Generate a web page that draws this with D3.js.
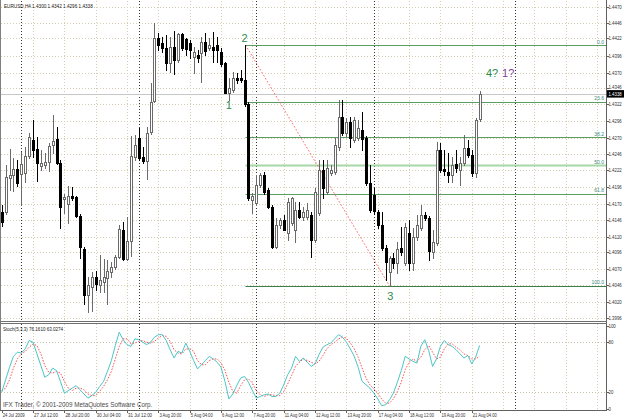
<!DOCTYPE html>
<html>
<head>
<meta charset="utf-8">
<script src="https://cdn.jsdelivr.net/npm/d3@7"></script>
<style>
body { margin: 0; background: #fff; }
svg { display: block; }
text { font-family: "Liberation Sans", Arial, sans-serif; }
</style>
</head>
<body>
<div id="chart"></div>
<script>
var width = 625;
var height = 420;

// EURUSD H4, 24 Jul 2009 - 21 Aug 2009
var opens = [1.4158,1.4158,1.4209,1.4214,1.4223,1.4216,1.4217,1.4243,1.4267,1.4254,
  1.4228,1.4229,1.4234,1.4260,1.4269,1.4232,1.4177,1.4170,1.4182,1.4180,
  1.4151,1.4101,1.4031,1.4043,1.4058,1.4046,1.4051,1.4058,1.4066,1.4074,
  1.4089,1.4130,1.4086,1.4113,1.4241,1.4270,1.4241,1.4235,1.4280,1.4327,
  1.4423,1.4415,1.4408,1.4385,1.4409,1.4389,1.4429,1.4421,1.4415,1.4394,
  1.4397,1.4400,1.4417,1.4408,1.4409,1.4412,1.4401,1.4385,1.4340,1.4344,
  1.4362,1.4362,1.4359,1.4322,1.4176,1.4171,1.4199,1.4214,1.4191,1.4165,
  1.4104,1.4138,1.4145,1.4126,1.4141,1.4130,1.4161,1.4150,1.4150,1.4153,
  1.4115,1.4156,1.4222,1.4188,1.4217,1.4219,1.4257,1.4302,1.4278,1.4295,
  1.4267,1.4270,1.4283,1.4270,1.4202,1.4183,1.4158,1.4138,1.4103,1.4066,
  1.4087,1.4080,1.4103,1.4080,1.4126,1.4080,1.4120,1.4133,1.4153,1.4148,
  1.4097,1.4110,1.4252,1.4223,1.4219,1.4214,1.4231,1.4222,1.4232,1.4255,
  1.4244,1.4217,1.4300];
var highs = [1.4168,1.4229,1.4254,1.4240,1.4237,1.4249,1.4257,1.4278,1.4298,1.4272,
  1.4252,1.4248,1.4263,1.4305,1.4287,1.4237,1.4185,1.4197,1.4196,1.4182,
  1.4155,1.4104,1.4058,1.4066,1.4068,1.4092,1.4086,1.4084,1.4081,1.4092,
  1.4138,1.4142,1.4150,1.4273,1.4275,1.4286,1.4257,1.4287,1.4354,1.4446,
  1.4430,1.4424,1.4427,1.4424,1.4433,1.4431,1.4430,1.4423,1.4420,1.4409,
  1.4404,1.4424,1.4430,1.4423,1.4432,1.4424,1.4408,1.4386,1.4362,1.4371,
  1.4369,1.4374,1.4412,1.4325,1.4187,1.4214,1.4217,1.4219,1.4194,1.4168,
  1.4148,1.4148,1.4153,1.4179,1.4180,1.4173,1.4173,1.4165,1.4171,1.4158,
  1.4194,1.4237,1.4237,1.4237,1.4229,1.4270,1.4328,1.4328,1.4301,1.4302,
  1.4302,1.4298,1.4310,1.4273,1.4229,1.4194,1.4161,1.4158,1.4107,1.4090,
  1.4095,1.4112,1.4135,1.4141,1.4145,1.4133,1.4153,1.4168,1.4158,1.4151,
  1.4130,1.4264,1.4263,1.4252,1.4248,1.4241,1.4252,1.4241,1.4275,1.4267,
  1.4252,1.4301,1.4342];
var lows = [1.4136,1.4155,1.4191,1.4190,1.4197,1.4168,1.4203,1.4240,1.4241,1.4205,
  1.4222,1.4225,1.4220,1.4248,1.4231,1.4133,1.4156,1.4141,1.4176,1.4150,
  1.4087,1.4017,1.4005,1.4007,1.4039,1.4036,1.4036,1.4017,1.4058,1.4071,
  1.4087,1.4084,1.4084,1.4090,1.4237,1.4237,1.4232,1.4208,1.4276,1.4325,
  1.4404,1.4401,1.4374,1.4371,1.4368,1.4386,1.4404,1.4397,1.4392,1.4369,
  1.4386,1.4356,1.4397,1.4404,1.4386,1.4386,1.4380,1.4339,1.4328,1.4340,
  1.4354,1.4356,1.4319,1.4176,1.4156,1.4168,1.4196,1.4185,1.4164,1.4103,
  1.4103,1.4133,1.4130,1.4115,1.4138,1.4112,1.4148,1.4145,1.4147,1.4089,
  1.4112,1.4153,1.4179,1.4185,1.4214,1.4216,1.4252,1.4275,1.4273,1.4257,
  1.4264,1.4267,1.4252,1.4199,1.4158,1.4155,1.4133,1.4100,1.4054,1.4045,
  1.4072,1.4065,1.4092,1.4077,1.4069,1.4069,1.4115,1.4130,1.4145,1.4084,
  1.4087,1.4107,1.4219,1.4214,1.4203,1.4203,1.4219,1.4199,1.4229,1.4241,
  1.4212,1.4211,1.4296];
var closes = [1.4142,1.4211,1.4214,1.4223,1.4202,1.4231,1.4243,1.4272,1.4251,1.4232,
  1.4232,1.4234,1.4258,1.4266,1.4232,1.4165,1.4180,1.4182,1.4179,1.4151,
  1.4103,1.4031,1.4046,1.4058,1.4048,1.4054,1.4058,1.4068,1.4074,1.4089,
  1.4132,1.4086,1.4113,1.4243,1.4260,1.4240,1.4235,1.4278,1.4325,1.4423,
  1.4412,1.4408,1.4385,1.4409,1.4389,1.4429,1.4408,1.4406,1.4404,1.4401,
  1.4392,1.4417,1.4404,1.4412,1.4404,1.4404,1.4382,1.4340,1.4347,1.4362,
  1.4359,1.4359,1.4322,1.4179,1.4182,1.4199,1.4214,1.4188,1.4165,1.4104,
  1.4138,1.4145,1.4130,1.4173,1.4179,1.4161,1.4150,1.4158,1.4161,1.4115,
  1.4188,1.4222,1.4194,1.4225,1.4222,1.4260,1.4302,1.4278,1.4295,1.4270,
  1.4298,1.4286,1.4270,1.4202,1.4161,1.4158,1.4138,1.4103,1.4081,1.4087,
  1.4080,1.4101,1.4097,1.4135,1.4080,1.4120,1.4138,1.4153,1.4148,1.4097,
  1.4112,1.4252,1.4222,1.4220,1.4214,1.4229,1.4225,1.4232,1.4255,1.4244,
  1.4217,1.4298,1.4338];

// Stoch(5,3,3)
var stochK = [20,35,50,63,68,67,72,82,80,66,52,38,41,49,46,33,19,22,25,28,
  23,18,13,16,20,27,33,45,58,76,92,83,77,75,84,83,80,77,80,86,
  89,89,82,71,61,69,67,79,69,58,48,53,58,63,60,56,50,33,12,18,
  28,37,39,32,22,13,15,17,18,15,15,19,29,41,49,63,57,61,56,51,
  54,65,74,77,79,84,89,86,80,72,63,50,33,29,25,19,12,4,5,11,
  19,32,46,63,60,57,55,75,83,70,51,60,75,82,77,75,71,66,61,64,
  54,62,76.161];
var stochD = [22,25,35,49,60,66,69,74,78,76,66,52,44,43,45,43,33,25,22,25,
  25,23,18,16,16,21,27,35,45,60,75,84,84,78,79,81,82,80,79,81,
  85,88,87,81,71,67,66,72,72,69,58,53,53,58,60,60,55,46,32,21,
  19,28,35,36,31,22,17,15,17,17,16,16,21,30,40,51,56,60,58,56,
  54,57,64,72,77,80,84,86,85,79,72,62,49,37,29,24,19,12,7,7,
  12,21,32,47,56,60,57,62,71,76,68,60,62,72,78,78,74,71,66,64,
  60,60,63.0274];

var priceTicks = ["1.4470","1.4446","1.4422","1.4396","1.4370","1.4346","1.4322","1.4296","1.4270","1.4246",
  "1.4222","1.4196","1.4170","1.4146","1.4120","1.4096","1.4070","1.4046","1.4020","1.3996"];
var timeLabels = ["24 Jul 2009","27 Jul 12:00","28 Jul 20:00","30 Jul 04:00","31 Jul 12:00","3 Aug 20:00",
  "5 Aug 04:00","6 Aug 12:00","7 Aug 20:00","11 Aug 04:00","12 Aug 12:00","13 Aug 20:00",
  "17 Aug 04:00","18 Aug 12:00","19 Aug 20:00","21 Aug 04:00"];
var stochTicks = [100, 80, 20, 0];
var stochLevels = [80, 20];
var separators = [5, 35, 65, 95, 131];   // bar indexes of week separators

// fibo from wave point 2 (bar 62) to point 3 (bar 99)
var fiboFrom = {bar: 62, price: 1.4412};
var fiboTo = {bar: 99, price: 1.4045};
var fiboLevels = [0, 23.6, 38.2, 50, 61.8, 100];

var waveLabels = [
  {bar: 62, price: 1.4416, text: "2", color: "#2e8b4e"},
  {bar: 58, price: 1.4315, text: "1", color: "#2e8b4e"},
  {bar: 99.2, price: 1.4024, text: "3", color: "#2e8b4e"},
  {bar: 125.2, price: 1.4364, text: "4?", color: "#2e8b4e"},
  {bar: 129.3, price: 1.4364, text: "1?", color: "#7b3f9e"}
];

var plotRight = 606;
var mainTop = 1, mainBottom = 320;
var subTop = 324, subBottom = 410;

var svg = d3.select("#chart")
            .append("svg")
            .attr("width", width)
            .attr("height", height);

var x = d3.scaleLinear().domain([0, 122]).range([1.7, 479.6]);
var y = d3.scaleLinear().domain([1.3996, 1.4470]).range([318, 7]);
var ys = d3.scaleLinear().domain([0, 100]).range([409, 325.5]);

function px(v) { return Math.round(v) + 0.5; }

var gridColor = "#d5ceb2";
var lastPrice = closes[closes.length - 1];
var lastY = y(lastPrice);

// vertical grid, every 8 bars, into the future too
var gridBars = d3.range(8, 160, 8).filter(function(b) { return x(b) < plotRight - 2; });
[[mainTop, mainBottom], [subTop, subBottom]].forEach(function(r) {
  svg.append("g").selectAll("line")
    .data(gridBars)
    .enter()
    .append("line")
    .attr("x1", function(d) { return px(x(d)); })
    .attr("x2", function(d) { return px(x(d)); })
    .attr("y1", r[0]).attr("y2", r[1])
    .attr("stroke", gridColor)
    .attr("stroke-dasharray", "1,2");
});

// horizontal grid main
svg.append("g").selectAll("line")
  .data(priceTicks)
  .enter()
  .append("line")
  .attr("x1", 1).attr("x2", plotRight)
  .attr("y1", function(d) { return px(y(+d)); })
  .attr("y2", function(d) { return px(y(+d)); })
  .attr("stroke", gridColor)
  .attr("stroke-dasharray", "1,2");

// stoch levels
svg.append("g").selectAll("line")
  .data(stochLevels)
  .enter()
  .append("line")
  .attr("x1", 1).attr("x2", plotRight)
  .attr("y1", function(d) { return px(ys(d)); })
  .attr("y2", function(d) { return px(ys(d)); })
  .attr("stroke", "#c8c0a8")
  .attr("stroke-dasharray", "1,2");

// week separators
[[mainTop, mainBottom], [subTop, subBottom]].forEach(function(r) {
  svg.append("g").selectAll("line")
    .data(separators)
    .enter()
    .append("line")
    .attr("x1", function(d) { return px(x(d) - 0.3); })
    .attr("x2", function(d) { return px(x(d) - 0.3); })
    .attr("y1", r[0]).attr("y2", r[1])
    .attr("stroke", "#333")
    .attr("stroke-dasharray", "1,2");
});

// bid line
svg.append("line")
  .attr("x1", 1).attr("x2", plotRight)
  .attr("y1", px(lastY))
  .attr("y2", px(lastY))
  .attr("stroke", "#c8c8c8");

// fibonacci levels
var fiboRange = fiboFrom.price - fiboTo.price;
var fibo = svg.append("g");
fibo.selectAll("line")
  .data(fiboLevels)
  .enter()
  .append("line")
  .attr("x1", px(x(fiboFrom.bar))).attr("x2", plotRight)
  .attr("y1", function(d) { return px(y(fiboFrom.price - fiboRange * d / 100)); })
  .attr("y2", function(d) { return px(y(fiboFrom.price - fiboRange * d / 100)); })
  .attr("stroke", function(d) { return d == 50 ? "#a6d8a6" : (d == 100 ? "#3c7f4c" : "#5a9e64"); })
  .attr("stroke-width", function(d) { return d == 50 ? 2 : 1; });
fibo.selectAll("text")
  .data(fiboLevels)
  .enter()
  .append("text")
  .attr("x", plotRight - 2)
  .attr("y", function(d) { return y(fiboFrom.price - fiboRange * d / 100) - 1.5; })
  .attr("text-anchor", "end")
  .attr("font-size", "5px")
  .attr("fill", "#3a8a7a")
  .text(function(d) { return d.toFixed(1); });

// fibo trend line
svg.append("line")
  .attr("x1", x(fiboFrom.bar) + 1).attr("y1", y(fiboFrom.price))
  .attr("x2", x(fiboTo.bar)).attr("y2", y(fiboTo.price))
  .attr("stroke", "#ff5a5a")
  .attr("stroke-dasharray", "1.5,2");

// candles
var idx = d3.range(opens.length);
var candles = svg.append("g").selectAll("g")
  .data(idx)
  .enter()
  .append("g");
candles.append("line")
  .attr("x1", function(i) { return px(x(i)); })
  .attr("x2", function(i) { return px(x(i)); })
  .attr("y1", function(i) { return Math.round(y(highs[i])); })
  .attr("y2", function(i) { return Math.round(y(lows[i])) + 1; })
  .attr("stroke", function(i) { return closes[i] >= opens[i] ? "#6a6a6a" : "#000"; });
candles.append("rect")
  .attr("x", function(i) { return Math.round(x(i)) - 0.5; })
  .attr("width", 2)
  .attr("y", function(i) { return Math.round(Math.min(y(opens[i]), y(closes[i]))) + 0.5; })
  .attr("height", function(i) { return Math.max(1, Math.round(Math.abs(y(opens[i]) - y(closes[i])))); })
  .attr("fill", function(i) { return closes[i] >= opens[i] ? "#fff" : "#000"; })
  .attr("stroke", function(i) { return closes[i] >= opens[i] ? "#6a6a6a" : "#000"; });

// wave labels
svg.append("g").selectAll("text")
  .data(waveLabels)
  .enter()
  .append("text")
  .attr("x", function(d) { return x(d.bar); })
  .attr("y", function(d) { return y(d.price); })
  .attr("text-anchor", "middle")
  .attr("font-size", "11px")
  .attr("fill", function(d) { return d.color; })
  .text(function(d) { return d.text; });

// stochastic lines
var lineK = d3.line().x(function(d, i) { return x(i); }).y(function(d) { return ys(d); });
svg.append("path")
  .attr("d", lineK(stochD))
  .attr("fill", "none")
  .attr("stroke", "#ff4d4d")
  .attr("stroke-dasharray", "1.5,1.5");
svg.append("path")
  .attr("d", lineK(stochK))
  .attr("fill", "none")
  .attr("stroke", "#4cc6c6");

// frame and pane separator
svg.append("line").attr("x1", 0.5).attr("x2", 0.5).attr("y1", 0).attr("y2", subBottom + 1).attr("stroke", "#808080");
svg.append("line").attr("x1", plotRight + 0.5).attr("x2", plotRight + 0.5).attr("y1", 0).attr("y2", subBottom + 1).attr("stroke", "#606060");
svg.append("line").attr("x1", 0).attr("x2", plotRight + 1).attr("y1", subBottom + 0.5).attr("y2", subBottom + 0.5).attr("stroke", "#606060");
svg.append("line").attr("x1", 0).attr("x2", plotRight + 1).attr("y1", mainBottom + 1.5).attr("y2", mainBottom + 1.5).attr("stroke", "#707070");
svg.append("line").attr("x1", 0).attr("x2", plotRight + 1).attr("y1", mainBottom + 3.5).attr("y2", mainBottom + 3.5).attr("stroke", "#707070");

// small terminal-style text: squeeze horizontally with a transform
function smallText(sel, perChar) {
  sel.each(function() {
    var t = d3.select(this);
    var tx = +t.attr("x"), ty = +t.attr("y");
    var natural = this.getComputedTextLength();
    var s = natural > 0 ? (this.textContent.length * perChar) / natural : 1;
    t.attr("x", 0).attr("y", 0)
     .attr("transform", "translate(" + tx + "," + ty + ") scale(" + s.toFixed(3) + ",1)");
  });
  return sel;
}

// price axis
var axisG = svg.append("g");
axisG.selectAll("line")
  .data(priceTicks)
  .enter()
  .append("line")
  .attr("x1", plotRight).attr("x2", plotRight + 3)
  .attr("y1", function(d) { return px(y(+d)); })
  .attr("y2", function(d) { return px(y(+d)); })
  .attr("stroke", "#606060");
smallText(axisG.selectAll("text")
  .data(priceTicks)
  .enter()
  .append("text")
  .attr("x", plotRight + 2.5)
  .attr("y", function(d) {
    var ty = y(+d) + 2;
    // keep clear of the current price box
    if (ty < lastY && ty > lastY - 9) ty = lastY - 4.6;
    return ty;
  })
  .attr("font-size", "5.6px")
  .attr("fill", "#303030")
  .text(function(d) { return d; }), 2.2);

// current price box
svg.append("rect")
  .attr("x", plotRight + 1).attr("y", lastY - 3.5)
  .attr("width", 17).attr("height", 7.5)
  .attr("fill", "#000");
smallText(svg.append("text")
  .attr("x", plotRight + 2.5).attr("y", lastY + 2.6)
  .attr("font-size", "5.4px")
  .attr("fill", "#fff")
  .text(lastPrice.toFixed(4)), 2.2);

// stoch axis
var sAxis = svg.append("g");
sAxis.selectAll("line")
  .data(stochTicks)
  .enter()
  .append("line")
  .attr("x1", plotRight).attr("x2", plotRight + 3)
  .attr("y1", function(d) { return px(ys(d)); })
  .attr("y2", function(d) { return px(ys(d)); })
  .attr("stroke", "#606060");
smallText(sAxis.selectAll("text")
  .data(stochTicks)
  .enter()
  .append("text")
  .attr("x", plotRight + 2.5)
  .attr("y", function(d) { return ys(d) + 2; })
  .attr("font-size", "5.6px")
  .attr("fill", "#303030")
  .text(function(d) { return d; }), 2.4);

// time axis
var tAxis = svg.append("g");
tAxis.selectAll("line")
  .data(timeLabels)
  .enter()
  .append("line")
  .attr("x1", function(d, i) { return px(x(i * 8)); })
  .attr("x2", function(d, i) { return px(x(i * 8)); })
  .attr("y1", subBottom).attr("y2", subBottom + 3)
  .attr("stroke", "#606060");
smallText(tAxis.selectAll("text")
  .data(timeLabels)
  .enter()
  .append("text")
  .attr("x", function(d, i) { return x(i * 8) + 1; })
  .attr("y", 417)
  .attr("font-size", "5.8px")
  .attr("fill", "#303030")
  .text(function(d) { return d; }), 2.0);

// titles
smallText(svg.append("text")
  .attr("x", 4).attr("y", 8)
  .attr("font-size", "6px")
  .attr("fill", "#202020")
  .text("EURUSD,H4 1.4300 1.4342 1.4296 1.4338"), 2.4);
smallText(svg.append("text")
  .attr("x", 3).attr("y", 331)
  .attr("font-size", "5.6px")
  .attr("fill", "#202020")
  .text("Stoch(5,3,3) 76.1610 63.0274"), 2.15);
smallText(svg.append("text")
  .attr("x", 3).attr("y", 407)
  .attr("font-size", "7px")
  .attr("fill", "#4a4a4a")
  .text("IFX Trader, © 2001-2009 MetaQuotes Software Corp."), 3.05);
</script>
</body>
</html>
